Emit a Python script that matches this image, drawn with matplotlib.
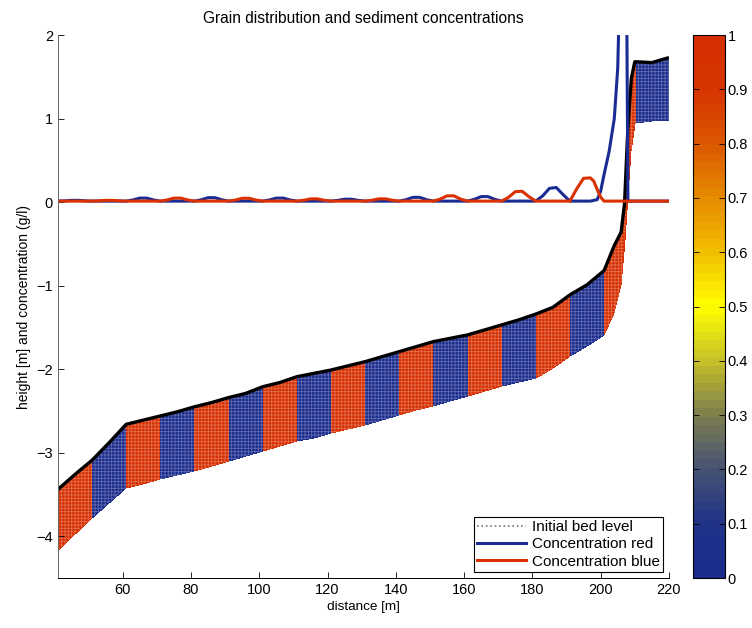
import numpy as np
import matplotlib
matplotlib.use('Agg')
import matplotlib.pyplot as plt
from matplotlib.colors import LinearSegmentedColormap

plt.rcParams['font.family'] = ['Liberation Sans', 'DejaVu Sans']
plt.rcParams['font.size'] = 10
plt.rcParams['hatch.linewidth'] = 0.6
plt.rcParams['axes.unicode_minus'] = True

#%% Bed profile (top of layer) and bottom of the mixed layer
bed_x = [41, 46, 51, 56, 61, 66, 71, 76, 81, 86, 91, 96, 101, 106, 111, 116,
         121, 126, 131, 136, 141, 146, 151, 156, 161, 166, 171, 176, 181, 186,
         191, 196, 201, 204, 206, 207, 208, 209, 210, 210.5, 215, 220]
bed_top = [-3.44, -3.26, -3.09, -2.88, -2.66, -2.61, -2.56, -2.51, -2.45, -2.40,
           -2.34, -2.29, -2.21, -2.16, -2.09, -2.05, -2.01, -1.96, -1.91, -1.85,
           -1.79, -1.73, -1.67, -1.63, -1.59, -1.53, -1.47, -1.41, -1.34, -1.26,
           -1.11, -0.99, -0.82, -0.52, -0.36, -0.02, 0.90, 1.48, 1.68, 1.68,
           1.67, 1.73]
bed_bot = [-4.17, -3.97, -3.78, -3.60, -3.42, -3.37, -3.32, -3.27, -3.22, -3.16,
           -3.10, -3.04, -2.98, -2.92, -2.86, -2.82, -2.77, -2.72, -2.67, -2.61,
           -2.55, -2.49, -2.44, -2.38, -2.32, -2.26, -2.20, -2.15, -2.11, -1.99,
           -1.84, -1.72, -1.59, -1.33, -0.99, -0.45, 0.10, 0.61, 0.93, 0.95,
           0.97, 0.98]

# grain fraction bands (1 = red sediment, 0 = blue sediment)
band_edges = [41, 51, 61, 71, 81, 91, 101, 111, 121, 131, 141, 151, 161, 171,
              181, 191, 201, 210.5, 220]
band_frac = [1, 0, 1, 0, 1, 0, 1, 0, 1, 0, 1, 0, 1, 0, 1, 0, 1, 0]

#%% Concentrations
conc_x = [41, 43, 45, 47, 49, 51, 53, 55, 57, 59, 61, 63, 65, 67, 69, 71, 73, 75,
          77, 79, 81, 83, 85, 87, 89, 91, 93, 95, 97, 99, 101, 103, 105, 107, 109,
          111, 113, 115, 117, 119, 121, 123, 125, 127, 129, 131, 133, 135, 137,
          139, 141, 143, 145, 147, 149, 151, 153, 155, 157, 159, 161, 163, 165,
          167, 169, 171, 173, 175, 177, 179, 181, 183, 185, 187, 189, 191, 193,
          195, 197]
# "Concentration red" (drawn blue)
conc_red = [0.012, 0.015, 0.021, 0.021, 0.015, 0.012, 0.012, 0.012, 0.012, 0.012,
            0.012, 0.026, 0.048, 0.048, 0.026, 0.012, 0.012, 0.012, 0.012, 0.012,
            0.012, 0.028, 0.053, 0.053, 0.028, 0.012, 0.012, 0.012, 0.012, 0.012,
            0.012, 0.026, 0.048, 0.048, 0.026, 0.012, 0.012, 0.012, 0.012, 0.012,
            0.012, 0.021, 0.035, 0.035, 0.021, 0.012, 0.012, 0.012, 0.012, 0.012,
            0.012, 0.029, 0.057, 0.057, 0.029, 0.012, 0.012, 0.012, 0.012, 0.012,
            0.012, 0.033, 0.066, 0.066, 0.033, 0.012, 0.012, 0.012, 0.012, 0.012,
            0.012, 0.074, 0.165, 0.175, 0.090, 0.012, 0.012, 0.012, 0.012]
spike_x = [199, 200, 201, 202.5, 204, 205, 206.5, 207.7, 208, 220]
spike_red = [0.03, 0.13, 0.33, 0.61, 1.0, 1.6, 4.0, 2.0, 0.012, 0.012]
# "Concentration blue" (drawn red)
conc_blue = [0.012, 0.012, 0.012, 0.012, 0.012, 0.012, 0.015, 0.021, 0.021, 0.015,
             0.012, 0.012, 0.012, 0.012, 0.012, 0.012, 0.026, 0.048, 0.048, 0.026,
             0.012, 0.012, 0.012, 0.012, 0.012, 0.012, 0.025, 0.046, 0.046, 0.025,
             0.012, 0.012, 0.012, 0.012, 0.012, 0.012, 0.022, 0.039, 0.039, 0.022,
             0.012, 0.012, 0.012, 0.012, 0.012, 0.012, 0.022, 0.039, 0.039, 0.022,
             0.012, 0.012, 0.012, 0.012, 0.012, 0.012, 0.036, 0.075, 0.075, 0.036,
             0.012, 0.012, 0.012, 0.012, 0.012, 0.012, 0.057, 0.125, 0.130, 0.065,
             0.012, 0.012, 0.012, 0.012, 0.012, 0.012, 0.160, 0.285, 0.290]
tail_x = [198, 199, 200, 201, 220]
tail_blue = [0.250, 0.150, 0.060, 0.012, 0.012]

cb_ticks = [0, 0.1, 0.2, 0.3, 0.4, 0.5, 0.6, 0.7, 0.8, 0.9, 1]
cb_labels = ['0', '0.1', '0.2', '0.3', '0.4', '0.5', '0.6', '0.7', '0.8', '0.9', '1']

#%% colormap (blue - grey - yellow - red)
cmap_colors = [(0.0, (0.10, 0.17, 0.55)), (0.1, (0.13, 0.20, 0.53)),
               (0.2, (0.28, 0.33, 0.45)), (0.3, (0.50, 0.50, 0.30)),
               (0.4, (0.78, 0.76, 0.16)), (0.5, (1.0, 1.0, 0.0)),
               (0.6, (0.95, 0.75, 0.0)), (0.7, (0.90, 0.55, 0.0)),
               (0.8, (0.86, 0.35, 0.0)), (0.9, (0.84, 0.21, 0.0)),
               (1.0, (0.84, 0.18, 0.0))]
grain_cmap = LinearSegmentedColormap.from_list('grain', cmap_colors, N=64)

#%% Build mesh
bx = np.array(bed_x)
top = np.array(bed_top)
bot = np.array(bed_bot)
nlay = 4
X = np.tile(bx, (nlay + 1, 1))
Y = np.array([bot + (top - bot) * j / nlay for j in range(nlay + 1)])
mids = 0.5 * (bx[1:] + bx[:-1])
idx = np.searchsorted(band_edges, mids) - 1
C = np.tile(np.array(band_frac)[idx], (nlay, 1)).astype(float)

fig = plt.figure(figsize=(7.52, 6.28), dpi=100)
ax = fig.add_axes([0.077, 0.0796, 0.8125, 0.8646])
cax = fig.add_axes([0.9215, 0.0796, 0.0426, 0.8646])

mesh = ax.pcolormesh(X, Y, C, cmap=grain_cmap, vmin=0, vmax=1, shading='flat',
                     edgecolors='none')
ax.fill_between(bx, bot, top, facecolor='none', edgecolor=(1, 1, 1, 0.3),
                hatch='+++++', linewidth=0)

ax.plot(bx, top, linestyle=':', color='0.45', lw=1.2, label='Initial bed level')
ax.plot(bx, top, color='k', lw=2.4, solid_capstyle='butt')
ax.plot(conc_x + spike_x, conc_red + spike_red, color=(0.10, 0.17, 0.58), lw=2.2,
        label='Concentration red')
ax.plot(conc_x + tail_x, conc_blue + tail_blue, color=(0.86, 0.19, 0.0), lw=2.2,
        label='Concentration blue')

ax.set_xlim(41, 220)
ax.set_ylim(-4.5, 2)
ax.set_xticks([60, 80, 100, 120, 140, 160, 180, 200, 220])
ax.set_yticks([-4, -3, -2, -1, 0, 1, 2])
ax.tick_params(direction='in', length=4, width=0.6, labelsize=10.5)
for s in ['top', 'right']:
    ax.spines[s].set_visible(False)
for s in ['left', 'bottom']:
    ax.spines[s].set_linewidth(0.7)
ax.spines['left'].set_color('0.4')
ax.set_xlabel('distance [m]', fontsize=9.7, labelpad=3)
ax.set_ylabel('height [m] and concentration (g/l)', labelpad=4)
ax.set_title('Grain distribution and sediment concentrations', fontsize=11.2, pad=9)

leg = ax.legend(loc='lower right', fancybox=False, framealpha=1, edgecolor='k',
                borderaxespad=0.4, handlelength=3.2, borderpad=0.2,
                labelspacing=0.22, handletextpad=0.4, fontsize=11)
leg.get_frame().set_linewidth(0.8)

cb = fig.colorbar(mesh, cax=cax, ticks=cb_ticks)
cb.ax.set_yticklabels(cb_labels)
cb.ax.tick_params(direction='in', left=True, right=True, length=4, width=0.6,
                  labelsize=10.5, pad=2)
cb.outline.set_linewidth(0.8)

fig.savefig('out.png', dpi=100)
